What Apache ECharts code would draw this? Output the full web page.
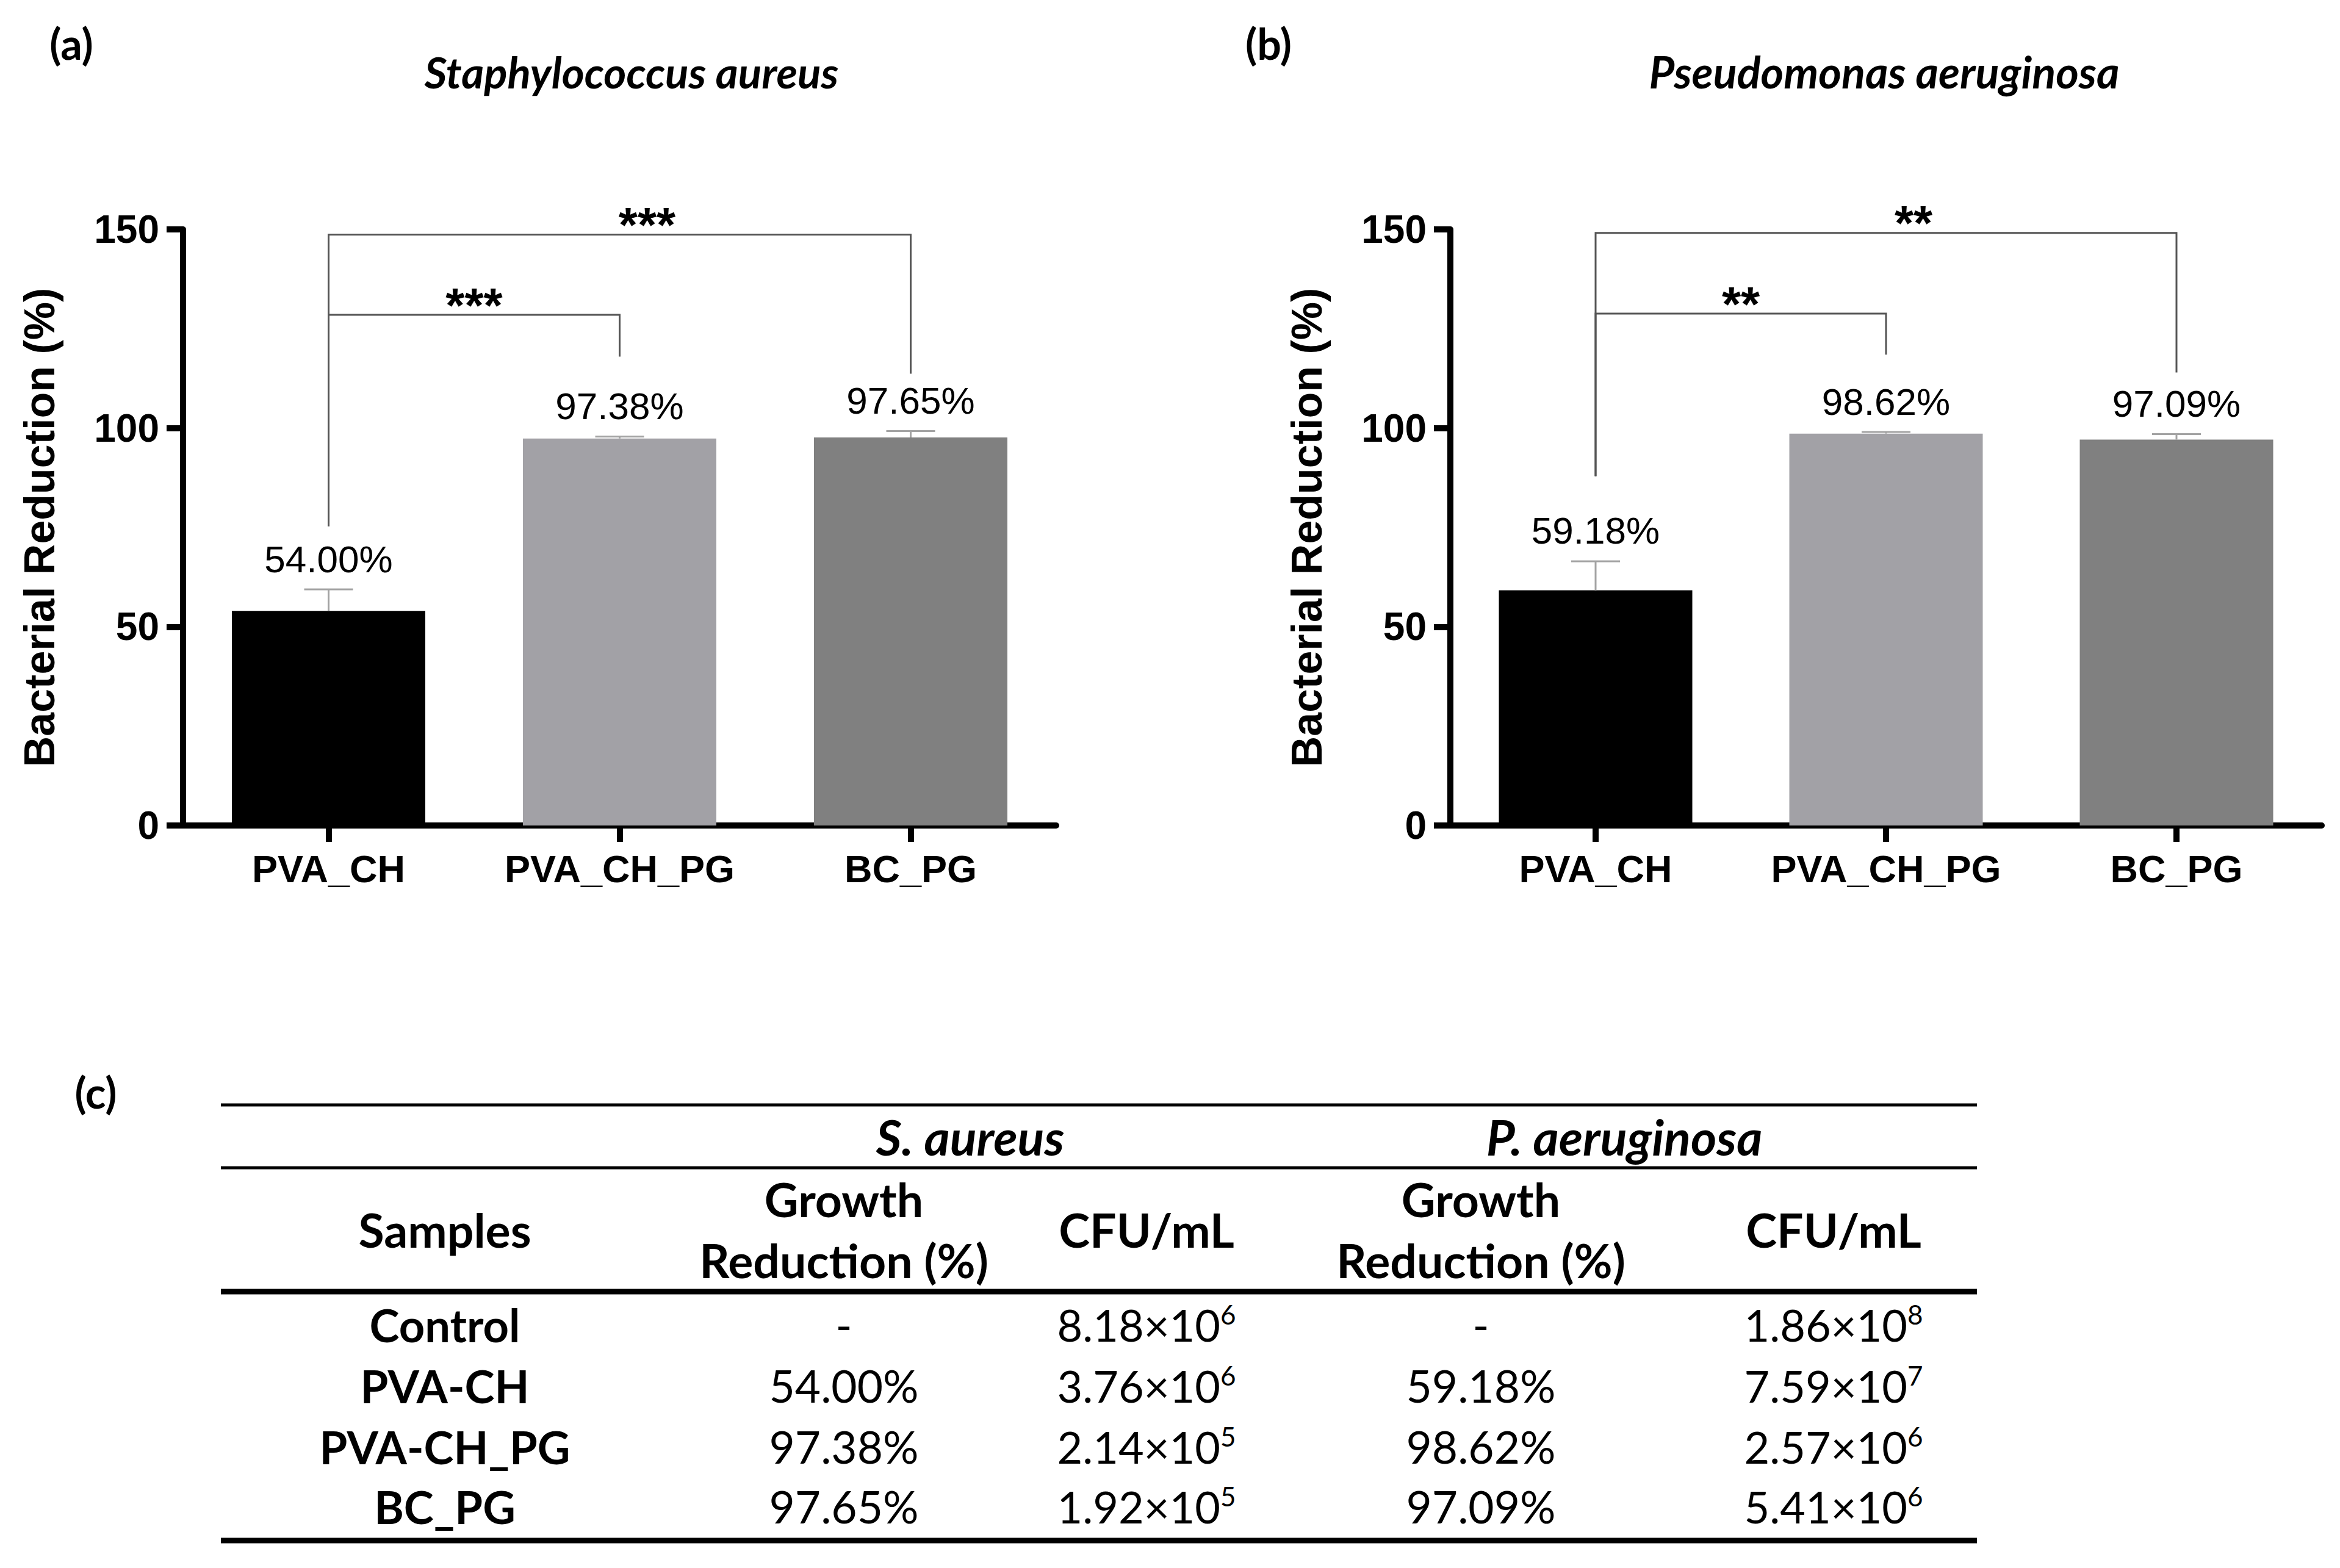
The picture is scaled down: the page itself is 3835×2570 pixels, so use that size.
<!DOCTYPE html>
<html>
<head>
<meta charset="utf-8">
<script src="https://cdn.jsdelivr.net/npm/echarts@6/dist/echarts.min.js"></script>
<style>
html,body{margin:0;padding:0;background:#ffffff;}
#chart{width:3835px;height:2570px;}
</style>
</head>
<body>
<div id="chart"></div>
<script>
// ---------------- DATA ----------------
const categories = ['PVA_CH', 'PVA_CH_PG', 'BC_PG'];
const barColors = ['#000000', '#a2a1a6', '#808080'];

const saTitle = 'Staphylococcus aureus';
const saValues = [54.00, 97.38, 97.65];
const saErrors = [5.4, 0.5, 1.6];

const paTitle = 'Pseudomonas aeruginosa';
const paValues = [59.18, 98.62, 97.09];
const paErrors = [7.3, 0.4, 1.4];

const yTickValues = [0, 50, 100, 150];
const yAxisTitle = 'Bacterial Reduction (%)';

// significance brackets: category indices and heights in data units
const saBrackets = [
  {from: 0, to: 1, top: 128.5, fromBottom: 75.3, toBottom: 118.0, label: '***'},
  {from: 0, to: 2, top: 148.7, fromBottom: 75.3, toBottom: 113.7, label: '***'}
];
const paBrackets = [
  {from: 0, to: 1, top: 128.8, fromBottom: 87.9, toBottom: 118.5, label: '**'},
  {from: 0, to: 2, top: 149.1, fromBottom: 87.9, toBottom: 114.0, label: '**'}
];

// table (c)
const tableSpecies = ['S. aureus', 'P. aeruginosa'];
const tableHeaders = ['Samples', 'Growth\nReduction (%)', 'CFU/mL', 'Growth\nReduction (%)', 'CFU/mL'];
const tableSamples = ['Control', 'PVA-CH', 'PVA-CH_PG', 'BC_PG'];
const saReductionText = ['-', '54.00%', '97.38%', '97.65%'];
const saCfuMantissa = ['8.18', '3.76', '2.14', '1.92'];
const saCfuExponent = ['6', '6', '5', '5'];
const paReductionText = ['-', '59.18%', '98.62%', '97.09%'];
const paCfuMantissa = ['1.86', '7.59', '2.57', '5.41'];
const paCfuExponent = ['8', '7', '6', '6'];

// ---------------- LAYOUT / STYLE ----------------
const AX = 'Liberation Sans';
const TB = 'Lato';
const gridTop = 376, gridH = 977;
const gridsDef = [
  {left: 300, top: gridTop, width: 1431, height: gridH},
  {left: 2377, top: gridTop, width: 1428, height: gridH}
];

function xAxisDef(gi) {
  return {
    type: 'category', gridIndex: gi, data: categories,
    axisLine: {show: true, lineStyle: {color: '#000', width: 10}},
    axisTick: {show: true, alignWithLabel: true, length: 27, lineStyle: {color: '#000', width: 10}},
    axisLabel: {color: '#000', fontFamily: AX, fontWeight: 'bold', fontSize: 63, margin: 39, interval: 0},
    splitLine: {show: false}
  };
}
function yAxisDef(gi) {
  return {
    type: 'value', gridIndex: gi, min: yTickValues[0], max: yTickValues[yTickValues.length - 1],
    interval: yTickValues[1] - yTickValues[0],
    name: yAxisTitle, nameLocation: 'middle', nameRotate: 90, nameGap: 200,
    nameTextStyle: {color: '#000', fontFamily: AX, fontWeight: 'bold', fontSize: 70},
    axisLine: {show: true, lineStyle: {color: '#000', width: 10}},
    axisTick: {show: true, length: 27, lineStyle: {color: '#000', width: 10}},
    axisLabel: {color: '#000', fontFamily: AX, fontWeight: 'bold', fontSize: 64, margin: 39},
    splitLine: {show: false}
  };
}
function barSeries(gi, values) {
  return {
    type: 'bar', xAxisIndex: gi, yAxisIndex: gi, barWidth: 317,
    data: values.map((v, i) => ({value: v, itemStyle: {color: barColors[i]}})),
    z: 2
  };
}
function errorSeries(gi, values, errors) {
  return {
    type: 'custom', xAxisIndex: gi, yAxisIndex: gi, z: 4,
    data: values.map((v, i) => [i, v, errors[i]]),
    renderItem: function (params, api) {
      const i = api.value(0), v = api.value(1), e = api.value(2);
      const base = api.coord([i, v]);
      const top = api.coord([i, v + e]);
      const half = 40;
      return {
        type: 'group',
        children: [
          {type: 'line', shape: {x1: base[0], y1: base[1], x2: top[0], y2: top[1]}, style: {stroke: '#a3a3a3', lineWidth: 3}},
          {type: 'line', shape: {x1: top[0] - half, y1: top[1], x2: top[0] + half, y2: top[1]}, style: {stroke: '#a3a3a3', lineWidth: 3}},
          {type: 'text', x: top[0], y: top[1] - 50,
            style: {text: v.toFixed(2) + '%', align: 'center', verticalAlign: 'middle', fontFamily: AX, fontSize: 62, fill: '#000'}}
        ]
      };
    }
  };
}
const longShift = 45; // horizontal offset of label on the wide bracket
function bracketSeries(gi, brackets) {
  return {
    type: 'custom', xAxisIndex: gi, yAxisIndex: gi, z: 5,
    data: brackets.map(b => [b.from, b.to, b.top, b.fromBottom, b.toBottom]),
    renderItem: function (params, api) {
      const b = brackets[params.dataIndex];
      const p1 = api.coord([b.from, b.fromBottom]);
      const p2 = api.coord([b.from, b.top]);
      const p3 = api.coord([b.to, b.top]);
      const p4 = api.coord([b.to, b.toBottom]);
      const mid = (p2[0] + p3[0]) / 2 + (b.to - b.from > 1 ? longShift : 0);
      return {
        type: 'group',
        children: [
          {type: 'polyline', shape: {points: [p1, p2, p3, p4]}, style: {stroke: '#555', lineWidth: 3, fill: null}},
          {type: 'text', x: mid, y: p2[1] - 16,
            style: {text: b.label, align: 'center', verticalAlign: 'middle', fontFamily: AX, fontWeight: 'bold', fontSize: 80, fill: '#000'}}
        ]
      };
    }
  };
}

// ---------------- TABLE GRAPHICS ----------------
const tLeft = 362, tRight = 3240;
const colX = [729, 1383, 1879, 2427, 3005];
const speciesX = [1590, 2662];
const rowY = [2171, 2271, 2371, 2469];
const g = [];
function hRule(y, w) {
  g.push({type: 'line', shape: {x1: tLeft, y1: y, x2: tRight, y2: y}, style: {stroke: '#000', lineWidth: w}});
}
function txt(x, y, text, opts) {
  g.push({type: 'text', x: x, y: y, style: Object.assign({text: text, align: 'center', verticalAlign: 'middle', fontFamily: TB, fontSize: 73, fill: '#000'}, opts || {})});
}
function sci(x, y, m, e) {
  g.push({type: 'text', x: x, y: y, style: {
    text: '{m|' + m + '×10}{s|' + e + '}', align: 'center', verticalAlign: 'middle',
    rich: {
      m: {fontFamily: TB, fontSize: 72, fill: '#000'},
      s: {fontFamily: TB, fontSize: 44, fill: '#000', padding: [0, 0, 34, 0]}
    }
  }});
}
// panel letters and titles
txt(117, 71, '(a)', {fontWeight: 'bold', fontSize: 70});
txt(2079, 71, '(b)', {fontWeight: 'bold', fontSize: 70});
txt(157, 1790, '(c)', {fontWeight: 'bold', fontSize: 70});
txt(1035, 117, saTitle, {fontWeight: 'bold', fontStyle: 'italic', fontSize: 71});
txt(3088, 117, paTitle, {fontWeight: 'bold', fontStyle: 'italic', fontSize: 72});
// rules
hRule(1811, 5);
hRule(1914, 5);
hRule(2117, 9);
hRule(2525, 9);
// species header
txt(speciesX[0], 1862, tableSpecies[0], {fontWeight: 'bold', fontStyle: 'italic', fontSize: 81});
txt(speciesX[1], 1862, tableSpecies[1], {fontWeight: 'bold', fontStyle: 'italic', fontSize: 81});
// column headers
tableHeaders.forEach((h, i) => txt(colX[i], 2015, h, {fontWeight: 'bold', fontSize: 77, lineHeight: 100}));
// rows
tableSamples.forEach((s, r) => {
  txt(colX[0], rowY[r], s, {fontWeight: 'bold', fontSize: 74});
  txt(colX[1], rowY[r], saReductionText[r]);
  sci(colX[2], rowY[r], saCfuMantissa[r], saCfuExponent[r]);
  txt(colX[3], rowY[r], paReductionText[r]);
  sci(colX[4], rowY[r], paCfuMantissa[r], paCfuExponent[r]);
});

// ---------------- CHART ----------------
const chart = echarts.init(document.getElementById('chart'), null, {renderer: 'svg'});
chart.setOption({
  backgroundColor: '#ffffff',
  animation: false,
  grid: gridsDef,
  xAxis: [xAxisDef(0), xAxisDef(1)],
  yAxis: [yAxisDef(0), yAxisDef(1)],
  series: [
    barSeries(0, saValues), errorSeries(0, saValues, saErrors), bracketSeries(0, saBrackets),
    barSeries(1, paValues), errorSeries(1, paValues, paErrors), bracketSeries(1, paBrackets)
  ],
  graphic: g
});
</script>
</body>
</html>
